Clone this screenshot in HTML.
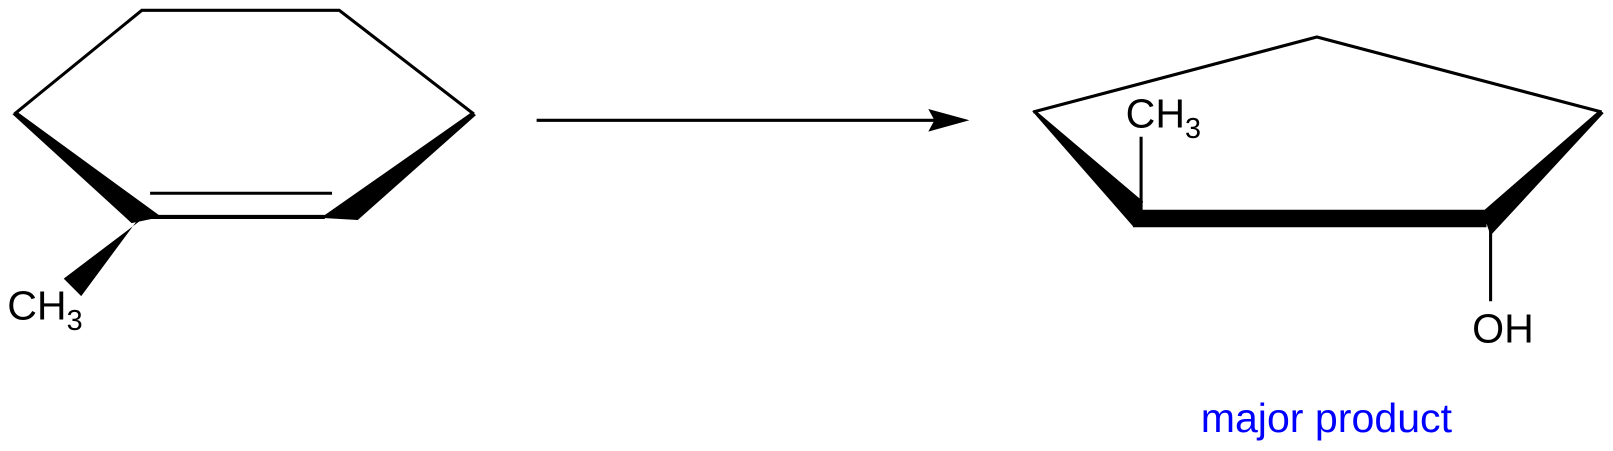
<!DOCTYPE html>
<html><head><style>body{margin:0;background:#fff;}svg{display:block}</style></head>
<body>
<svg width="1613" height="451" viewBox="0 0 1613 451" xmlns="http://www.w3.org/2000/svg" font-family="Liberation Sans, Arial, sans-serif">
<g transform="scale(1.028)">
<g stroke="#000" stroke-width="3" fill="none">
<polyline points="14,111 138,10 330,10 461,111"/>
<line x1="146" y1="188" x2="323" y2="188"/>
<line x1="140" y1="211" x2="316" y2="211" stroke-width="4"/>
<line x1="522" y1="117" x2="910" y2="117"/>
<polyline points="1005,109 1281,36 1558,109"/>
<line x1="1110" y1="133" x2="1110" y2="206"/>
<line x1="1450" y1="220" x2="1450" y2="293"/>
</g>
<g fill="#000">
<polygon points="12,111 17,109 157,211 128,217"/>
<polygon points="459,109 463,112 348,214 312,212"/>
<polygon points="140,212 136,211 79,288 62,271"/>
<polygon points="943,117 903,106 909,117 903,128"/>
<polygon points="1004,108 1008,108 1112,196 1102,220"/>
<polygon points="1104,204 1446,204 1446,221 1102,221"/>
<polygon points="1556,107 1560,110 1450,229 1442,206"/>
</g>
<g font-size="40" fill="#000">
<text x="7" y="311">CH<tspan font-size="28" dy="10">3</tspan></text>
<text x="1095" y="124">CH<tspan font-size="28" dy="10">3</tspan></text>
<text x="1432" y="333">OH</text>
</g>
<text x="1168" y="420" font-size="40" fill="#0000ff">major product</text>
</g>
</svg>
</body></html>
